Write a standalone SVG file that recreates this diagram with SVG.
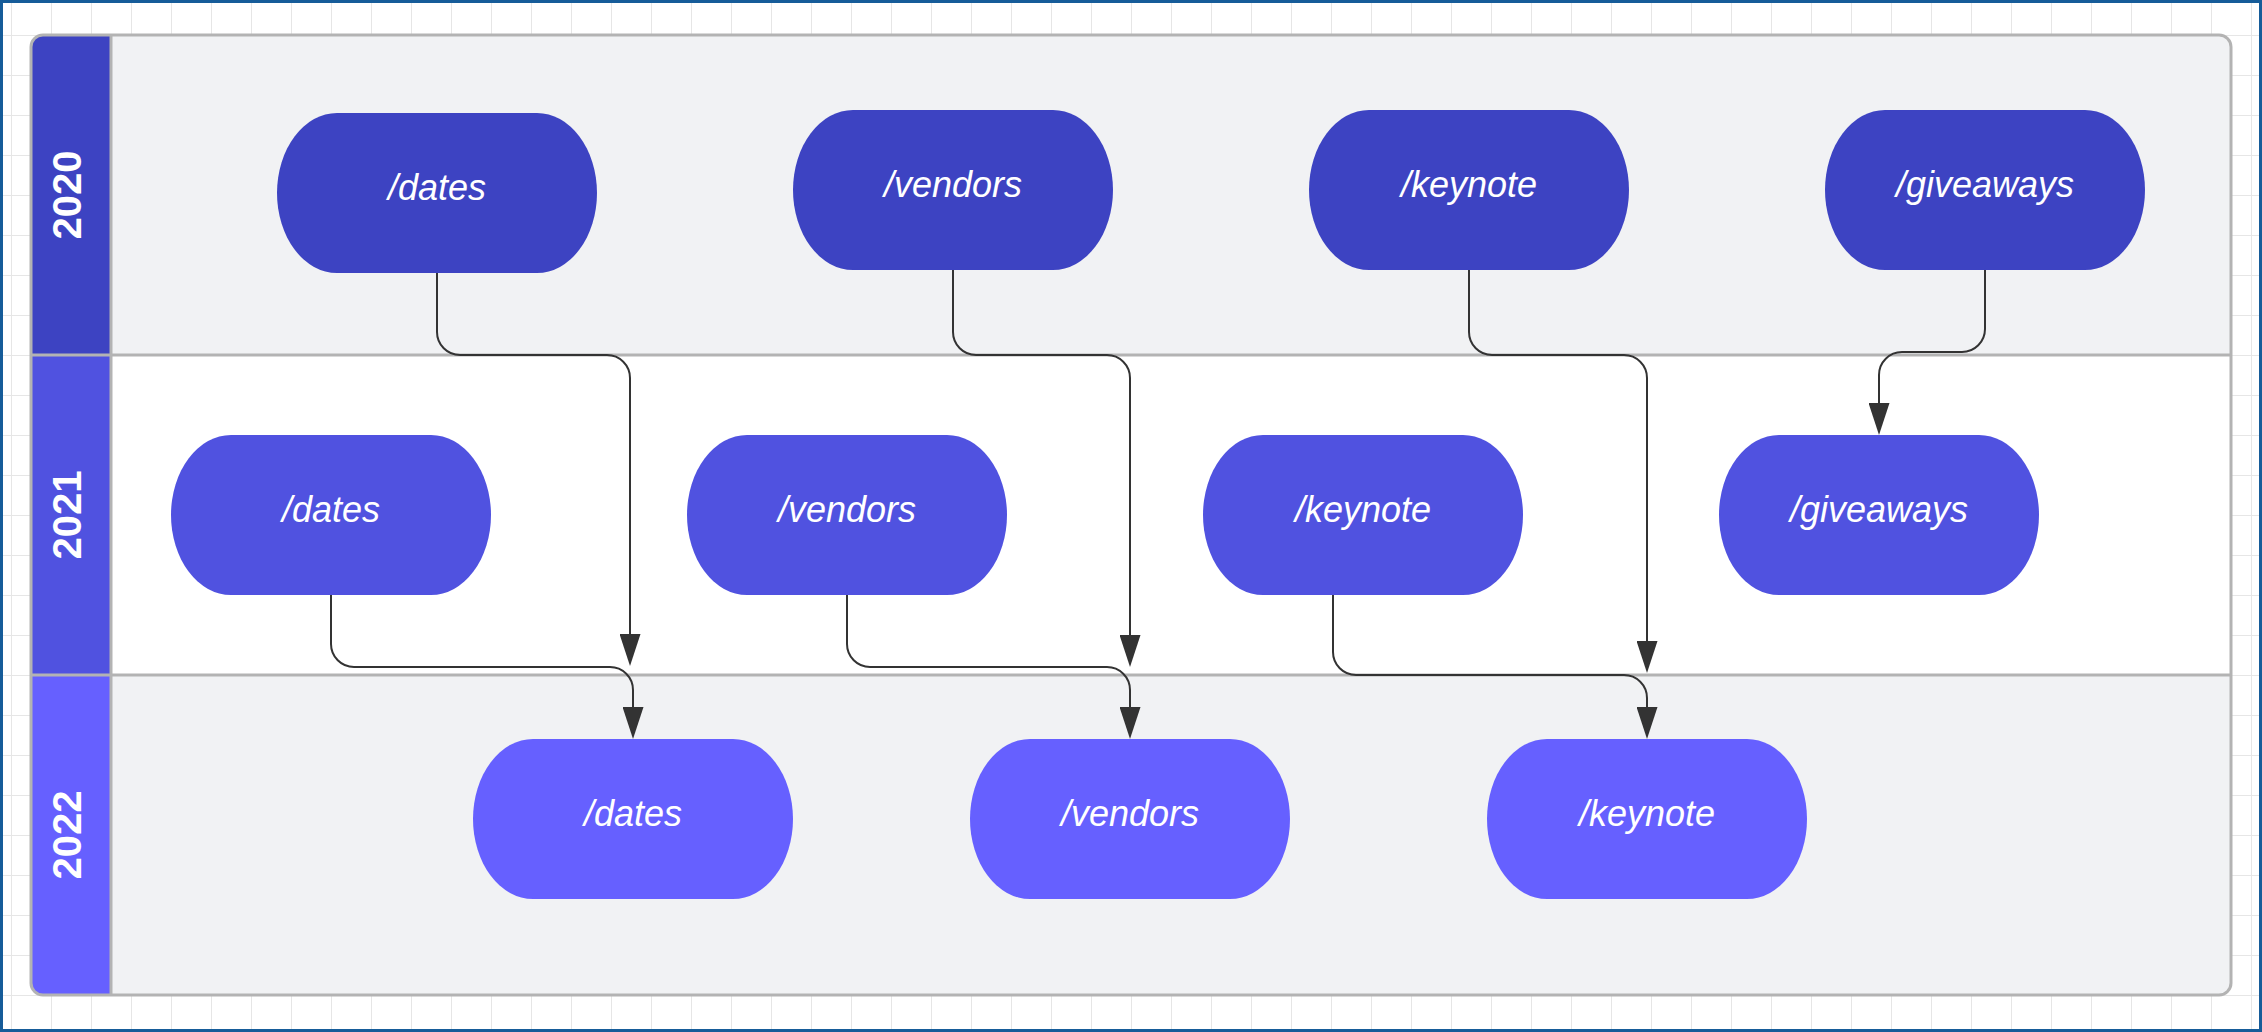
<svg xmlns="http://www.w3.org/2000/svg" width="2262" height="1032" viewBox="0 0 2262 1032">
  <style>
    .lbl { font-family: "Liberation Sans", Arial, sans-serif; font-style: italic; font-size: 36px; fill: #ffffff; text-anchor: middle; }
    .year { font-family: "Liberation Sans", Arial, sans-serif; font-weight: bold; font-size: 40px; fill: #ffffff; text-anchor: middle; }
    .c20 { fill: #3D43C2; }
    .c21 { fill: #5052E0; }
    .c22 { fill: #6660FF; }
    .sep { stroke: #b3b3b3; stroke-width: 3; fill: none; }
    .conn { fill: none; stroke: #333333; stroke-width: 2; marker-end: url(#arrow); }
  </style>
  <defs>
    <pattern id="grid" x="11" y="35" width="40" height="40" patternUnits="userSpaceOnUse">
      <rect x="0" y="0" width="40" height="1" fill="#e6e6e6"/>
      <rect x="0" y="0" width="1" height="40" fill="#e6e6e6"/>
    </pattern>
    <clipPath id="poolClip">
      <rect x="31" y="35" width="2200" height="960" rx="12" ry="12"/>
    </clipPath>
    <marker id="arrow" viewBox="0 0 32 21" markerWidth="32" markerHeight="21" refX="0" refY="10.5" orient="auto" markerUnits="userSpaceOnUse">
      <path d="M0,0 L32,10.5 L0,21 Z" fill="#333333"/>
    </marker>
    <rect id="shape" x="0" y="0" width="320" height="160" rx="60" ry="80"/>
  </defs>

  <!-- canvas background -->
  <rect x="0" y="0" width="2262" height="1032" fill="#ffffff"/>
  <rect x="0" y="0" width="2262" height="1032" fill="url(#grid)"/>
  <rect x="1.5" y="1.5" width="2259" height="1029" fill="none" stroke="#165c99" stroke-width="3"/>

  <!-- swimlane pool -->
  <g id="pool">
    <g clip-path="url(#poolClip)">
      <rect x="31" y="35" width="2200" height="320" fill="#F1F2F4"/>
      <rect x="31" y="355" width="2200" height="320" fill="#ffffff"/>
      <rect x="31" y="675" width="2200" height="320" fill="#F1F2F4"/>
      <rect class="c20" x="31" y="35" width="80" height="320"/>
      <rect class="c21" x="31" y="355" width="80" height="320"/>
      <rect class="c22" x="31" y="675" width="80" height="320"/>
    </g>
    <line class="sep" x1="31" y1="355" x2="2231" y2="355"/>
    <line class="sep" x1="31" y1="675" x2="2231" y2="675"/>
    <line class="sep" x1="111" y1="35" x2="111" y2="995"/>
    <rect class="sep" x="31" y="35" width="2200" height="960" rx="12" ry="12"/>
    <text class="year" transform="translate(81,195) rotate(-90)">2020</text>
    <text class="year" transform="translate(81,515) rotate(-90)">2021</text>
    <text class="year" transform="translate(81,835) rotate(-90)">2022</text>
  </g>

  <!-- 2020 nodes -->
  <g id="n2020-dates"><use href="#shape" class="c20" x="277" y="113"/><text class="lbl" x="437" y="200">/dates</text></g>
  <g id="n2020-vendors"><use href="#shape" class="c20" x="793" y="110"/><text class="lbl" x="953" y="197">/vendors</text></g>
  <g id="n2020-keynote"><use href="#shape" class="c20" x="1309" y="110"/><text class="lbl" x="1469" y="197">/keynote</text></g>
  <g id="n2020-giveaways"><use href="#shape" class="c20" x="1825" y="110"/><text class="lbl" x="1985" y="197">/giveaways</text></g>

  <!-- 2021 nodes -->
  <g id="n2021-dates"><use href="#shape" class="c21" x="171" y="435"/><text class="lbl" x="331" y="522">/dates</text></g>
  <g id="n2021-vendors"><use href="#shape" class="c21" x="687" y="435"/><text class="lbl" x="847" y="522">/vendors</text></g>
  <g id="n2021-keynote"><use href="#shape" class="c21" x="1203" y="435"/><text class="lbl" x="1363" y="522">/keynote</text></g>
  <g id="n2021-giveaways"><use href="#shape" class="c21" x="1719" y="435"/><text class="lbl" x="1879" y="522">/giveaways</text></g>

  <!-- 2022 nodes -->
  <g id="n2022-dates"><use href="#shape" class="c22" x="473" y="739"/><text class="lbl" x="633" y="826">/dates</text></g>
  <g id="n2022-vendors"><use href="#shape" class="c22" x="970" y="739"/><text class="lbl" x="1130" y="826">/vendors</text></g>
  <g id="n2022-keynote"><use href="#shape" class="c22" x="1487" y="739"/><text class="lbl" x="1647" y="826">/keynote</text></g>

  <!-- connectors -->
  <g id="connectors">
    <path class="conn" d="M437,273 V332 A23,23 0 0 0 460,355 H607 A23,23 0 0 1 630,378 V634"/>
    <path class="conn" d="M953,270 V332 A23,23 0 0 0 976,355 H1107 A23,23 0 0 1 1130,378 V635"/>
    <path class="conn" d="M1469,270 V332 A23,23 0 0 0 1492,355 H1624 A23,23 0 0 1 1647,378 V641"/>
    <path class="conn" d="M1985,270 V329 A23,23 0 0 1 1962,352 H1902 A23,23 0 0 0 1879,375 V403"/>
    <path class="conn" d="M331,595 V644 A23,23 0 0 0 354,667 H610 A23,23 0 0 1 633,690 V707"/>
    <path class="conn" d="M847,595 V644 A23,23 0 0 0 870,667 H1107 A23,23 0 0 1 1130,690 V707"/>
    <path class="conn" d="M1333,595 V652 A23,23 0 0 0 1356,675 H1624 A23,23 0 0 1 1647,698 V707"/>
  </g>
</svg>
